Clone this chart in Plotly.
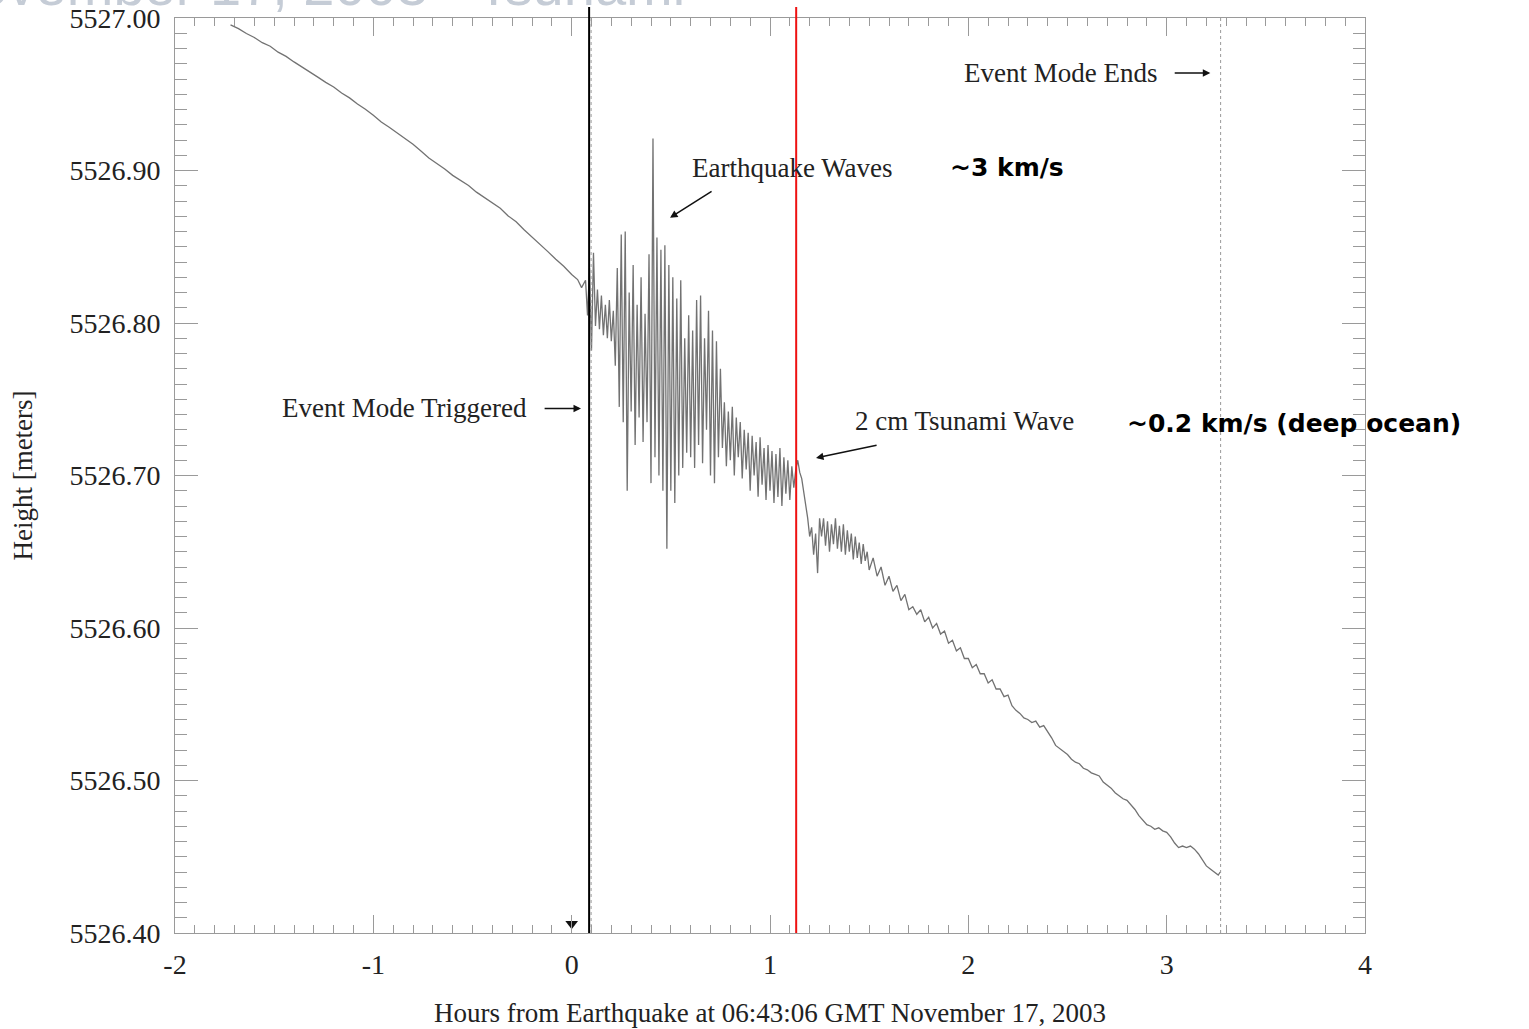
import plotly.graph_objects as go

# ---------------- data ----------------
# before the earthquake
pre_t = [-1.72, -1.68, -1.64, -1.60, -1.56, -1.52, -1.48, -1.44, -1.40, -1.36,
         -1.32, -1.28, -1.24, -1.20, -1.16, -1.12, -1.08, -1.04, -1.00, -0.96,
         -0.92, -0.88, -0.84, -0.80, -0.76, -0.72, -0.68, -0.64, -0.60, -0.56,
         -0.52, -0.48, -0.44, -0.40, -0.36, -0.32, -0.28, -0.24, -0.20, -0.16,
         -0.12, -0.08, -0.04, 0.00, 0.03, 0.05, 0.06]
pre_h = [5526.9955, 5526.9930, 5526.9898, 5526.9872, 5526.9838, 5526.9815, 5526.9776,
         5526.9748, 5526.9712, 5526.9680, 5526.9648, 5526.9612, 5526.9578, 5526.9548,
         5526.9508, 5526.9476, 5526.9436, 5526.9402, 5526.9362, 5526.9318, 5526.9284,
         5526.9248, 5526.9210, 5526.9172, 5526.9128, 5526.9082, 5526.9046, 5526.9010,
         5526.8968, 5526.8936, 5526.8902, 5526.8858, 5526.8824, 5526.8786, 5526.8752,
         5526.8702, 5526.8664, 5526.8612, 5526.8566, 5526.8514, 5526.8468, 5526.8418,
         5526.8372, 5526.8318, 5526.8285, 5526.8232, 5526.8262]

# earthquake waves
quake_t = [0.07, 0.08, 0.09, 0.10, 0.11, 0.12, 0.13, 0.14, 0.15, 0.16,
           0.17, 0.18, 0.19, 0.20, 0.21, 0.22, 0.23, 0.24, 0.25, 0.26,
           0.27, 0.28, 0.29, 0.30, 0.31, 0.32, 0.33, 0.34, 0.35, 0.36,
           0.37, 0.38, 0.39, 0.40, 0.41, 0.42, 0.43, 0.44, 0.45, 0.46,
           0.47, 0.48, 0.49, 0.50, 0.51, 0.52, 0.53, 0.54, 0.55, 0.56,
           0.57, 0.58, 0.59, 0.60, 0.61, 0.62, 0.63, 0.64, 0.65, 0.66,
           0.67, 0.68, 0.69, 0.70, 0.71, 0.72, 0.73, 0.74, 0.75, 0.76,
           0.77, 0.78, 0.79, 0.80, 0.81, 0.82, 0.83, 0.84, 0.85, 0.86,
           0.87, 0.88, 0.89, 0.90, 0.91, 0.92, 0.93, 0.94, 0.95, 0.96,
           0.97, 0.98, 0.99, 1.00, 1.01, 1.02, 1.03, 1.04, 1.05, 1.06,
           1.07, 1.08, 1.09, 1.10, 1.11, 1.12, 1.13]
quake_h = [5526.828, 5526.805, 5526.836, 5526.782, 5526.846, 5526.798, 5526.822, 5526.796, 5526.818, 5526.792,
           5526.812, 5526.790, 5526.815, 5526.788, 5526.808, 5526.772, 5526.836, 5526.745, 5526.858, 5526.735,
           5526.860, 5526.690, 5526.820, 5526.742, 5526.838, 5526.720, 5526.812, 5526.738, 5526.830, 5526.722,
           5526.806, 5526.735, 5526.845, 5526.695, 5526.921, 5526.712, 5526.856, 5526.700, 5526.848, 5526.690,
           5526.851, 5526.652, 5526.838, 5526.690, 5526.830, 5526.682, 5526.816, 5526.700, 5526.828, 5526.705,
           5526.790, 5526.715, 5526.805, 5526.712, 5526.795, 5526.705, 5526.815, 5526.720, 5526.818, 5526.708,
           5526.790, 5526.730, 5526.808, 5526.700, 5526.795, 5526.695, 5526.788, 5526.712, 5526.770, 5526.718,
           5526.748, 5526.706, 5526.742, 5526.710, 5526.745, 5526.700, 5526.738, 5526.712, 5526.735, 5526.698,
           5526.730, 5526.704, 5526.728, 5526.690, 5526.726, 5526.700, 5526.722, 5526.686, 5526.725, 5526.694,
           5526.718, 5526.684, 5526.720, 5526.690, 5526.716, 5526.682, 5526.714, 5526.686, 5526.718, 5526.680,
           5526.712, 5526.688, 5526.710, 5526.684, 5526.706, 5526.692, 5526.704]

# tsunami arrival and after
post_t = [1.14, 1.15, 1.16, 1.17, 1.18, 1.19, 1.20, 1.21, 1.22, 1.23,
          1.24, 1.25, 1.26, 1.27, 1.28, 1.29, 1.30, 1.31, 1.32, 1.33,
          1.34, 1.35, 1.36, 1.37, 1.38, 1.39, 1.40, 1.41, 1.42, 1.43,
          1.44, 1.45, 1.46, 1.47, 1.48, 1.49, 1.50, 1.52, 1.54, 1.56,
          1.58, 1.60, 1.62, 1.64, 1.66, 1.68, 1.70, 1.72, 1.74, 1.76,
          1.78, 1.80, 1.82, 1.84, 1.86, 1.88, 1.90, 1.92, 1.94, 1.96,
          1.98, 2.00, 2.02, 2.04, 2.06, 2.08, 2.10, 2.12, 2.14, 2.16,
          2.18, 2.20, 2.22, 2.24, 2.26, 2.28, 2.30, 2.32, 2.34, 2.36,
          2.38, 2.40, 2.42, 2.44, 2.46, 2.48, 2.50, 2.52, 2.54, 2.56,
          2.58, 2.60, 2.62, 2.64, 2.66, 2.68, 2.70, 2.72, 2.74, 2.76,
          2.78, 2.80, 2.82, 2.84, 2.86, 2.88, 2.90, 2.92, 2.94, 2.96,
          2.98, 3.00, 3.02, 3.04, 3.06, 3.08, 3.10, 3.12, 3.14, 3.16,
          3.18, 3.20, 3.22, 3.24, 3.26, 3.27]
post_h = [5526.710, 5526.702, 5526.698, 5526.690, 5526.680, 5526.672, 5526.660, 5526.666, 5526.648, 5526.662,
          5526.636, 5526.672, 5526.660, 5526.672, 5526.654, 5526.670, 5526.650, 5526.668, 5526.655, 5526.672,
          5526.652, 5526.667, 5526.650, 5526.668, 5526.648, 5526.664, 5526.650, 5526.662, 5526.645, 5526.660,
          5526.646, 5526.656, 5526.642, 5526.655, 5526.644, 5526.650, 5526.638, 5526.646, 5526.634, 5526.640,
          5526.628, 5526.634, 5526.624, 5526.628, 5526.618, 5526.622, 5526.612, 5526.614, 5526.609, 5526.612,
          5526.604, 5526.607, 5526.600, 5526.603, 5526.596, 5526.598, 5526.590, 5526.592, 5526.585, 5526.587,
          5526.580, 5526.580, 5526.574, 5526.576, 5526.570, 5526.570, 5526.564, 5526.566, 5526.560, 5526.560,
          5526.555, 5526.556, 5526.549, 5526.546, 5526.544, 5526.541, 5526.540, 5526.538, 5526.539, 5526.535,
          5526.536, 5526.532, 5526.528, 5526.523, 5526.521, 5526.519, 5526.517, 5526.514, 5526.512, 5526.511,
          5526.508, 5526.507, 5526.505, 5526.504, 5526.503, 5526.499, 5526.497, 5526.495, 5526.492, 5526.490,
          5526.488, 5526.487, 5526.484, 5526.481, 5526.477, 5526.474, 5526.471, 5526.470, 5526.468, 5526.469,
          5526.467, 5526.466, 5526.463, 5526.459, 5526.456, 5526.457, 5526.456, 5526.457, 5526.455, 5526.452,
          5526.448, 5526.444, 5526.442, 5526.440, 5526.438, 5526.440]

x_tick_vals = [-2, -1, 0, 1, 2, 3, 4]
x_tick_text = ["-2", "-1", "0", "1", "2", "3", "4"]
y_tick_vals = [5526.40, 5526.50, 5526.60, 5526.70, 5526.80, 5526.90, 5527.00]

trigger_time = 0.088      # black line (event mode triggered)
trigger_dot_time = 0.098  # dotted line next to it
tsunami_time = 1.132      # red line
end_time = 3.272          # event mode ends (dotted)

# ---------------- figure ----------------
serif = "Liberation Serif, Times New Roman, serif"
sans_bold = "DejaVu Sans, Verdana, sans-serif"

t_all = pre_t + quake_t + post_t
h_all = pre_h + quake_h + post_h

fig = go.Figure()
fig.add_trace(go.Scatter(x=t_all, y=h_all, mode="lines",
                         line=dict(color="#727272", width=1.3), showlegend=False,
                         hoverinfo="x+y"))
# earthquake marker at t=0
fig.add_trace(go.Scatter(x=[0], y=[5526.406], mode="markers",
                         marker=dict(symbol="triangle-down", size=11, color="#111"),
                         showlegend=False, hoverinfo="skip"))

# vertical lines
fig.add_shape(type="line", xref="x", yref="paper", x0=trigger_time, x1=trigger_time,
              y0=0, y1=1.012, line=dict(color="#000", width=2))
fig.add_shape(type="line", xref="x", yref="paper", x0=trigger_dot_time, x1=trigger_dot_time,
              y0=0, y1=1, line=dict(color="#999", width=1, dash="dot"))
fig.add_shape(type="line", xref="x", yref="paper", x0=tsunami_time, x1=tsunami_time,
              y0=0, y1=1.012, line=dict(color="#ee1111", width=2))
fig.add_shape(type="line", xref="x", yref="paper", x0=end_time, x1=end_time,
              y0=0, y1=1, line=dict(color="#999", width=1, dash="dot"))

ann_font = dict(family=serif, size=27, color="#222")
bold_font = dict(family=sans_bold, size=25, color="#000")

annotations = [
    dict(x=-0.214, y=5526.744, text="Event Mode Triggered", xanchor="right", yanchor="middle",
         showarrow=False, font=ann_font),
    dict(x=2.963, y=5526.964, text="Event Mode Ends", xanchor="right", yanchor="middle",
         showarrow=False, font=ann_font),
    dict(x=0.597, y=5526.9016, text="Earthquake Waves", xanchor="left", yanchor="middle",
         showarrow=False, font=ann_font),
    dict(x=1.419, y=5526.736, text="2 cm Tsunami Wave", xanchor="left", yanchor="middle",
         showarrow=False, font=ann_font),
    dict(x=1.899, y=5526.902, text="<b>~3 km/s</b>", xanchor="left", yanchor="middle",
         showarrow=False, font=bold_font),
    dict(x=2.791, y=5526.734, text="<b>~0.2 km/s (deep ocean)</b>", xanchor="left",
         yanchor="middle", showarrow=False, font=bold_font),
    # arrows
    dict(x=0.047, y=5526.744, ax=-0.144, ay=5526.744, axref="x", ayref="y", text="",
         showarrow=True, arrowhead=2, arrowsize=1, arrowwidth=1.5, arrowcolor="#111"),
    dict(x=3.220, y=5526.964, ax=3.033, ay=5526.964, axref="x", ayref="y", text="",
         showarrow=True, arrowhead=2, arrowsize=1, arrowwidth=1.5, arrowcolor="#111"),
    dict(x=0.496, y=5526.869, ax=0.713, ay=5526.887, axref="x", ayref="y", text="",
         showarrow=True, arrowhead=2, arrowsize=1, arrowwidth=1.5, arrowcolor="#111"),
    dict(x=1.232, y=5526.7115, ax=1.545, ay=5526.720, axref="x", ayref="y", text="",
         showarrow=True, arrowhead=2, arrowsize=1, arrowwidth=1.5, arrowcolor="#111"),
    # clipped slide title at the very top
    dict(xref="paper", yref="paper", x=0.43, y=0.9989, xanchor="right", yanchor="bottom",
         text="November 17, 2003 - Tsunami", showarrow=False,
         font=dict(family="Liberation Sans, Arial, sans-serif", size=56, color="#c5ccd6")),
]

axis_common = dict(showline=True, linecolor="#9a9a9a", linewidth=1, mirror="ticks",
                   ticks="inside", tickcolor="#9a9a9a", tickwidth=1,
                   showgrid=False, zeroline=False, ticklabeloverflow="allow",
                   tickfont=dict(family=serif, size=28, color="#222"))

fig.update_layout(
    width=1529, height=1029,
    margin=dict(l=175, r=164, t=18, b=96, autoexpand=False),
    paper_bgcolor="white", plot_bgcolor="white",
    xaxis=dict(range=[-2, 4], tickvals=x_tick_vals, ticktext=x_tick_text, ticklen=18,
               minor=dict(dtick=0.1, tick0=-2, ticklen=8, ticks="inside", tickcolor="#9a9a9a"),
               ticklabelstandoff=6, automargin=False,
               title=dict(text="Hours from Earthquake at 06:43:06 GMT November 17, 2003",
                          font=dict(family=serif, size=27, color="#222"), standoff=24),
               **axis_common),
    yaxis=dict(range=[5526.40, 5527.00], tickvals=y_tick_vals, tickformat=".2f", ticklen=23,
               minor=dict(dtick=0.01, tick0=5526.40, ticklen=12, ticks="inside", tickcolor="#9a9a9a"),
               ticklabelstandoff=8, automargin=False,
               title=dict(text="Height [meters]", font=dict(family=serif, size=27, color="#222"),
                          standoff=28),
               **axis_common),
    annotations=annotations,
)

fig.write_html("out.html", config={"displayModeBar": False},
               post_script="document.body.style.margin='0';document.body.style.overflow='hidden';")
